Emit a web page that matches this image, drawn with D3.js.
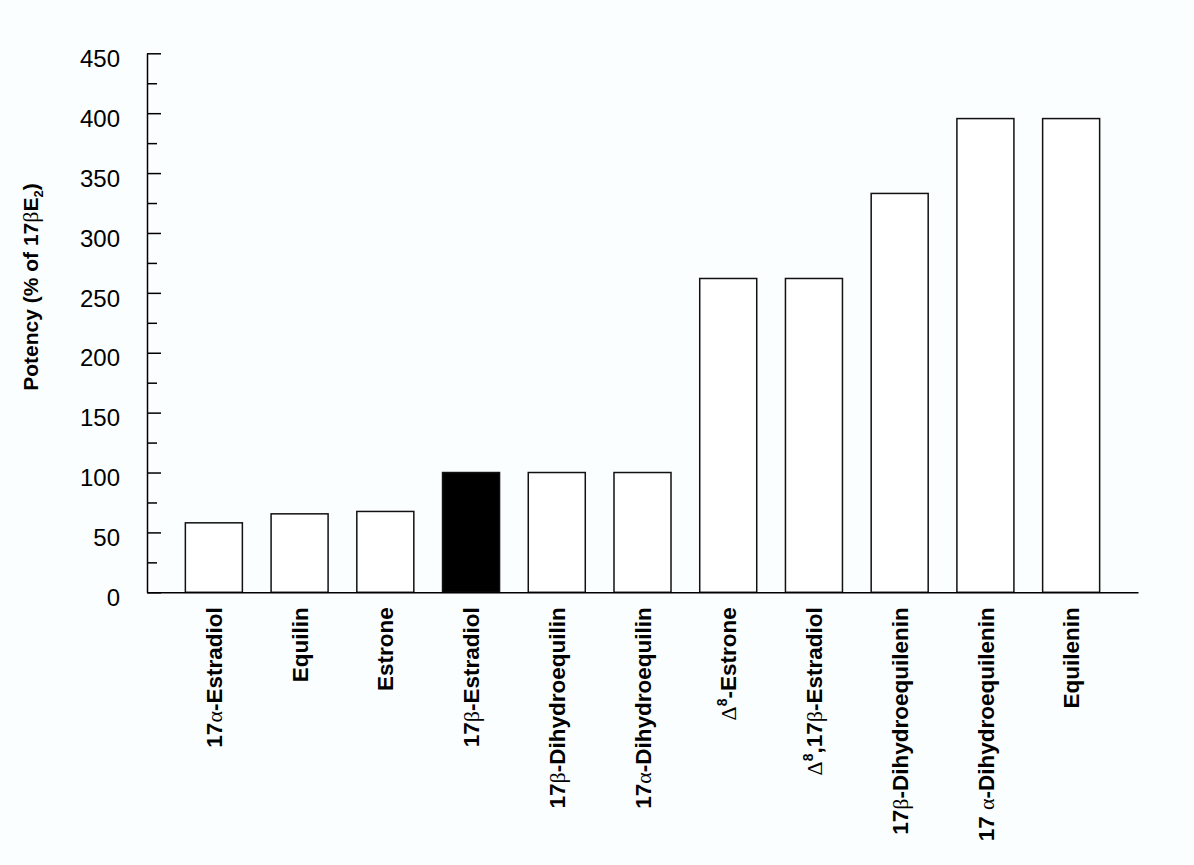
<!DOCTYPE html>
<html>
<head>
<meta charset="utf-8">
<script src="https://cdn.jsdelivr.net/npm/d3@7"></script>
<style>
  body { margin: 0; background: #fbfeff; }
  svg { display: block; font-family: "Liberation Sans", Arial, sans-serif; }
</style>
</head>
<body>
<script>
const compounds = ["17α-Estradiol", "Equilin", "Estrone", "17β-Estradiol",
  "17β-Dihydroequilin", "17α-Dihydroequilin", "Δ8-Estrone", "Δ8,17β-Estradiol",
  "17β-Dihydroequilenin", "17 α-Dihydroequilenin", "Equilenin"]
const potency = [58, 65.5, 67.5, 100, 100, 100, 262, 262, 333, 395.5, 395.5]
const reference = "17β-Estradiol"
const majorTicks = [0, 50, 100, 150, 200, 250, 300, 350, 400, 450]
const minorTicks = [25, 75, 125, 175, 225, 275, 325, 375, 425]

const dims = { w: 1194, h: 865, pl: 147, pr: 56, pt: 53.3, pb: 272.7 }

const svg = d3.select("body")
  .append("svg")
  .attr("width", dims.w)
  .attr("height", dims.h)

const yScale = d3.scaleLinear()
  .domain([0, 450])
  .range([dims.h - dims.pb, dims.pt])

const xScale = d3.scaleBand()
  .domain(compounds)
  .range([dims.pl, dims.w - dims.pr])
  .paddingInner(0.335)
  .paddingOuter(0.4475)

// y axis: ticks point into the plot
const yAxis = d3.axisLeft(yScale)
  .tickValues(majorTicks)
  .tickSizeInner(-14)
  .tickSizeOuter(0)
  .tickPadding(27)

const yMinor = d3.axisLeft(yScale)
  .tickValues(minorTicks)
  .tickSizeInner(-10)
  .tickSizeOuter(0)
  .tickFormat("")

const gy = svg.append("g")
  .attr("transform", `translate(${dims.pl}, 0)`)
  .call(yAxis)
gy.selectAll("text")
  .attr("font-size", 24)
  .attr("font-family", "Liberation Sans, Arial, sans-serif")
  .attr("fill", "#000")
  .attr("dy", "0.55em")
gy.selectAll("line, path").attr("stroke", "#000").attr("stroke-width", 1.5)

svg.append("g")
  .attr("transform", `translate(${dims.pl}, 0)`)
  .call(yMinor)
  .call(g => g.select(".domain").remove())
  .selectAll("line").attr("stroke", "#000").attr("stroke-width", 1.5)

// bars
svg.append("g")
  .selectAll("rect")
  .data(compounds)
  .enter()
  .append("rect")
  .attr("x", d => xScale(d))
  .attr("width", xScale.bandwidth())
  .attr("y", (d, i) => yScale(potency[i]))
  .attr("height", (d, i) => yScale(0) - yScale(potency[i]))
  .attr("fill", d => d === reference ? "#000" : "#fff")
  .attr("stroke", "#111")
  .attr("stroke-width", 1.5)

// x axis
const xAxis = d3.axisBottom(xScale)
  .tickSize(0)
  .tickSizeOuter(0)
  .tickFormat("")

const gx = svg.append("g")
  .attr("transform", `translate(0, ${yScale(0)})`)
  .call(xAxis)
gx.select(".domain").attr("stroke", "#000").attr("stroke-width", 1.5)

// split a label into runs: greek letters in serif, digit after Δ raised
function runs(label) {
  const out = []
  for (let i = 0; i < label.length; i++) {
    const c = label[i]
    if ("αβΔ".includes(c)) {
      out.push({ t: c, greek: true })
    } else if (i > 0 && label[i - 1] === "Δ") {
      out.push({ t: c, sup: true })
    } else if (out.length && !out[out.length - 1].greek && !out[out.length - 1].sup) {
      out[out.length - 1].t += c
    } else {
      out.push({ t: c })
    }
  }
  return out
}

const labels = svg.append("g")
  .selectAll("text")
  .data(compounds)
  .enter()
  .append("text")
  .attr("transform", d => `translate(${xScale(d) + xScale.bandwidth() / 2}, ${yScale(0) + 15}) rotate(-90)`)
  .attr("text-anchor", "end")
  .attr("dy", "0.36em")
  .attr("font-size", 22.5)
  .attr("font-weight", "bold")

labels.each(function(d) {
  const t = d3.select(this)
  let raised = false
  runs(d).forEach(r => {
    const s = t.append("tspan").text(r.t)
    if (r.greek) {
      s.attr("font-family", "Liberation Serif, Times New Roman, serif")
        .attr("font-weight", "normal")
        .attr("font-size", 22)
    }
    if (r.sup) {
      s.attr("font-size", 14).attr("dy", -9)
      raised = true
    } else if (raised) {
      s.attr("dy", 9)
      raised = false
    }
  })
})

// y title
const title = svg.append("text")
  .attr("transform", `translate(38, 287) rotate(-90)`)
  .attr("text-anchor", "middle")
  .attr("font-size", 21)
  .attr("font-weight", "bold")
title.append("tspan").text("Potency (% of 17")
title.append("tspan").text("β")
  .attr("font-family", "Liberation Serif, Times New Roman, serif")
  .attr("font-weight", "normal")
  .attr("font-size", 22)
title.append("tspan").text("E")
title.append("tspan").text("2").attr("font-size", 13).attr("dy", 5)
title.append("tspan").text(")").attr("dy", -5)
</script>
</body>
</html>
